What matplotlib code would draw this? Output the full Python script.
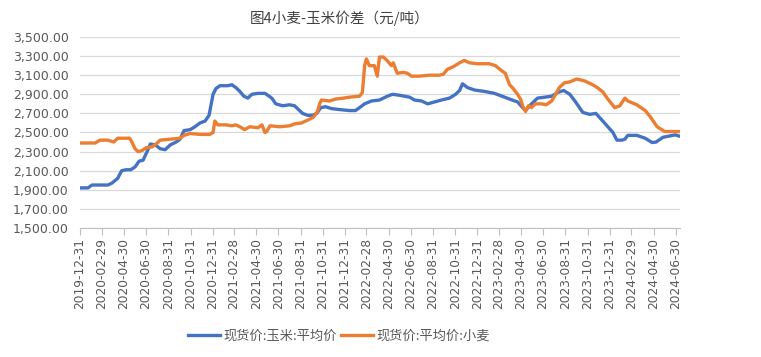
import matplotlib
matplotlib.use("Agg")
import matplotlib.pyplot as plt
import matplotlib.dates as mdates
import pandas as pd
from matplotlib.ticker import FuncFormatter, FixedLocator

plt.rcParams['font.family'] = ['Noto Sans CJK SC', 'DejaVu Sans']

title = "图4小麦-玉米价差（元/吨）"
corn_label = "现货价:玉米:平均价"
wheat_label = "现货价:平均价:小麦"

corn_dates = ["2019-12-31", "2020-01-22", "2020-02-02", "2020-02-24", "2020-03-17", "2020-03-28",
              "2020-04-13", "2020-04-24", "2020-05-06", "2020-05-19", "2020-05-31", "2020-06-11",
              "2020-06-22", "2020-07-03", "2020-07-12", "2020-07-26", "2020-08-08", "2020-08-22",
              "2020-09-05", "2020-09-21", "2020-10-02", "2020-10-13", "2020-10-30", "2020-11-12",
              "2020-11-26", "2020-12-10", "2020-12-21", "2020-12-27", "2021-01-01", "2021-01-09",
              "2021-01-20", "2021-02-11", "2021-02-22", "2021-03-05", "2021-03-16", "2021-03-27",
              "2021-04-07", "2021-04-18", "2021-05-05", "2021-05-24", "2021-06-01", "2021-06-12",
              "2021-06-23", "2021-07-12", "2021-07-31", "2021-08-14", "2021-08-22", "2021-09-05",
              "2021-09-19", "2021-10-03", "2021-10-14", "2021-10-25", "2021-11-07", "2021-11-24",
              "2021-12-16", "2022-01-12", "2022-01-29", "2022-02-09", "2022-02-23", "2022-03-14",
              "2022-04-05", "2022-04-27", "2022-05-11", "2022-05-30", "2022-06-27", "2022-07-11",
              "2022-07-30", "2022-08-16", "2022-09-04", "2022-09-23", "2022-10-15", "2022-11-01",
              "2022-11-12", "2022-11-20", "2022-12-04", "2022-12-23", "2023-01-20", "2023-02-16",
              "2023-03-02", "2023-03-30", "2023-04-21", "2023-05-05", "2023-05-13", "2023-05-24",
              "2023-06-15", "2023-07-05", "2023-07-24", "2023-08-10", "2023-08-26", "2023-09-12",
              "2023-09-28", "2023-10-18", "2023-11-06", "2023-11-23", "2023-12-12", "2023-12-26",
              "2024-01-09", "2024-01-20", "2024-02-03", "2024-02-11", "2024-02-19", "2024-03-15",
              "2024-04-07", "2024-04-26", "2024-05-07", "2024-05-26", "2024-06-15", "2024-06-29",
              "2024-07-12"]
corn_values = [1920, 1920, 1950, 1950, 1950, 1970,
               2020, 2100, 2110, 2110, 2140, 2200,
               2210, 2300, 2380, 2370, 2330, 2320,
               2370, 2400, 2430, 2520, 2530, 2560,
               2600, 2620, 2680, 2800, 2900, 2960,
               2990, 2990, 3000, 2970, 2930, 2880,
               2860, 2900, 2910, 2910, 2890, 2860,
               2800, 2780, 2790, 2780, 2750, 2700,
               2680, 2680, 2700, 2760, 2770, 2750,
               2740, 2730, 2730, 2760, 2800, 2830,
               2840, 2880, 2900, 2890, 2870, 2840,
               2830, 2800, 2820, 2840, 2860, 2900,
               2940, 3010, 2970, 2945, 2930, 2910,
               2890, 2850, 2820, 2760, 2730, 2780,
               2860, 2870, 2880, 2920, 2940, 2900,
               2820, 2710, 2690, 2700, 2620, 2560,
               2500, 2420, 2420, 2430, 2470, 2470,
               2440, 2395, 2400, 2450, 2465, 2475,
               2460]

wheat_dates = ["2019-12-31", "2020-02-11", "2020-02-24", "2020-03-17", "2020-04-02", "2020-04-13",
               "2020-05-16", "2020-05-22", "2020-05-31", "2020-06-08", "2020-06-19", "2020-06-30",
               "2020-07-17", "2020-07-28", "2020-08-08", "2020-09-05", "2020-10-02", "2020-10-13",
               "2020-10-30", "2020-11-26", "2020-12-23", "2021-01-01", "2021-01-06", "2021-01-14",
               "2021-02-06", "2021-02-22", "2021-03-05", "2021-03-16", "2021-03-29", "2021-04-12",
               "2021-05-05", "2021-05-16", "2021-05-24", "2021-05-29", "2021-06-07", "2021-07-04",
               "2021-07-31", "2021-08-14", "2021-09-02", "2021-09-19", "2021-10-05", "2021-10-16",
               "2021-10-22", "2021-10-27", "2021-11-18", "2021-12-05", "2021-12-27", "2022-01-12",
               "2022-02-09", "2022-02-17", "2022-02-23", "2022-02-28", "2022-03-08", "2022-03-22",
               "2022-03-30", "2022-04-05", "2022-04-16", "2022-04-27", "2022-05-08", "2022-05-13",
               "2022-05-24", "2022-06-10", "2022-06-21", "2022-07-02", "2022-07-24", "2022-08-21",
               "2022-09-17", "2022-09-28", "2022-10-09", "2022-10-26", "2022-11-12", "2022-11-25",
               "2022-12-09", "2022-12-31", "2023-02-02", "2023-02-19", "2023-03-07", "2023-03-18",
               "2023-03-30", "2023-04-09", "2023-04-21", "2023-04-29", "2023-05-07", "2023-05-13",
               "2023-05-21", "2023-05-29", "2023-06-09", "2023-06-26", "2023-07-09", "2023-07-24",
               "2023-08-04", "2023-08-14", "2023-08-28", "2023-09-12", "2023-10-01", "2023-10-23",
               "2023-11-14", "2023-11-27", "2023-12-12", "2023-12-26", "2024-01-14", "2024-01-28",
               "2024-02-11", "2024-02-19", "2024-03-15", "2024-04-07", "2024-04-20", "2024-05-10",
               "2024-05-31", "2024-07-12"]
wheat_values = [2390, 2390, 2420, 2420, 2400, 2440,
                2440, 2400, 2330, 2300, 2310, 2340,
                2350, 2380, 2420, 2430, 2440, 2470,
                2490, 2480, 2480, 2500, 2620, 2580,
                2580, 2570, 2580, 2560, 2530, 2560,
                2550, 2580, 2500, 2510, 2570, 2560,
                2570, 2590, 2600, 2630, 2660, 2720,
                2800, 2840, 2830, 2850, 2860, 2870,
                2880, 2920, 3200, 3270, 3200, 3200,
                3090, 3290, 3290, 3250, 3200, 3230,
                3120, 3130, 3120, 3090, 3090, 3100,
                3100, 3110, 3160, 3190, 3230, 3255,
                3230, 3220, 3220, 3200, 3150, 3120,
                3000, 2960, 2900, 2850, 2760, 2720,
                2780, 2760, 2800, 2800, 2790, 2830,
                2900, 2970, 3020, 3030, 3060, 3040,
                3000, 2970, 2925, 2850, 2760, 2780,
                2860, 2830, 2790, 2730, 2670, 2560,
                2510, 2510]

tick_labels = ["2019-12-31", "2020-02-29", "2020-04-30", "2020-06-30", "2020-08-31", "2020-10-31",
               "2020-12-31", "2021-02-28", "2021-04-30", "2021-06-30", "2021-08-31", "2021-10-31",
               "2021-12-31", "2022-02-28", "2022-04-30", "2022-06-30", "2022-08-31", "2022-10-31",
               "2022-12-31", "2023-02-28", "2023-04-30", "2023-06-30", "2023-08-31", "2023-10-31",
               "2023-12-31", "2024-02-29", "2024-04-30", "2024-06-30"]

fig = plt.figure(figsize=(7.61, 3.57), dpi=100)
ax = fig.add_axes([80/761, 1-228/357, 600/761, 191/357])

cd = pd.to_datetime(corn_dates)
wd = pd.to_datetime(wheat_dates)
l1, = ax.plot(cd, corn_values, color="#4472C4", lw=2.4, solid_joinstyle="round", label=corn_label)
l2, = ax.plot(wd, wheat_values, color="#ED7D31", lw=2.4, solid_joinstyle="round", label=wheat_label)

ax.set_ylim(1500, 3500)
ax.set_yticks(range(1500, 3501, 200))
ax.yaxis.set_major_formatter(FuncFormatter(lambda v, p: f"{v:,.2f}"))
ax.set_xlim(pd.Timestamp(corn_dates[0]), pd.Timestamp(corn_dates[-1]))
tick_pos = mdates.date2num(pd.to_datetime(tick_labels))
ax.xaxis.set_major_locator(FixedLocator(tick_pos))
ax.set_xticklabels(tick_labels, rotation=90, fontsize=8.8, color="#595959", family="DejaVu Sans")
ax.grid(axis="y", color="#d9d9d9", lw=0.9)
ax.set_axisbelow(True)
for s in ["top", "right", "left"]:
    ax.spines[s].set_visible(False)
ax.spines["bottom"].set_color("#bfbfbf")
ax.tick_params(axis="y", length=0, labelsize=9, labelcolor="#595959", pad=8)
ax.tick_params(axis="x", length=5, color="#bfbfbf", pad=2)
for t in ax.get_yticklabels():
    t.set_family("DejaVu Sans")

fig.text(340/761, 1-18/357, title, ha="center", va="center", fontsize=10.5, color="#404040")
fig.legend(handles=[l1, l2], loc="center", bbox_to_anchor=(339/761, 1-336/357), ncol=2,
           frameon=False, fontsize=9.5, labelcolor="#595959", handlelength=2.4,
           columnspacing=0.3, handletextpad=0.3)

fig.savefig("out.png", dpi=100)
